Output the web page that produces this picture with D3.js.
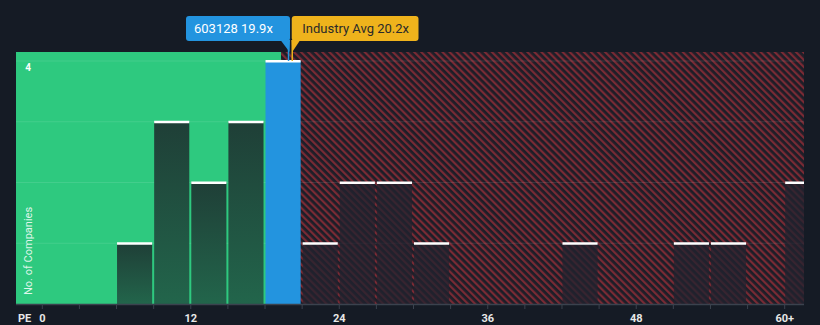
<!DOCTYPE html>
<html><head><meta charset="utf-8">
<script src="https://cdn.jsdelivr.net/npm/d3@7"></script>
<style>body{margin:0;background:#151b25;}svg{display:block;font-family:Roboto,"Open Sans",sans-serif;}</style>
</head><body><div id="c"></div>
<script>
const binStarts = [6, 9, 12, 15, 18, 21, 24, 27, 30, 33, 36, 39, 42, 45, 48, 51, 54, 57, 60];
const binCounts = [1, 3, 2, 3, 4, 1, 2, 2, 1, 0, 0, 0, 1, 0, 0, 1, 1, 0, 2];
const binWidth = 3;
const xTickLabels = [[0,"0"],[12,"12"],[24,"24"],[36,"36"],[48,"48"],[60,"60+"]];
const yTickLabels = [4];
const companyName = "603128";
const companyPE = 19.9;
const industryPE = 20.2;
const fairBoundary = 19.3;

const W = 820, H = 325;
const L = 16, R = 804, T = 52, B = 304;
const svg = d3.select("#c").append("svg").attr("width", W).attr("height", H);
svg.append("rect").attr("width", W).attr("height", H).attr("fill", "#151b25");

const x = d3.scaleLinear().domain([0, 60]).range([42.3, 784.7]);
const y = d3.scaleLinear().domain([0, 4]).range([B, 61]);

const defs = svg.append("defs");
const pat = defs.append("pattern").attr("id","hatch").attr("patternUnits","userSpaceOnUse")
  .attr("width",5).attr("height",5).attr("patternTransform","rotate(-45)");
pat.append("rect").attr("width",5).attr("height",5).attr("fill","#1d1e28");
pat.append("rect").attr("width",2.2).attr("height",5).attr("fill","#7a2a34");
const g1 = defs.append("linearGradient").attr("id","gbar").attr("x1",0).attr("y1",0).attr("x2",0).attr("y2",1);
g1.append("stop").attr("offset","0%").attr("stop-color","#1f3f37");
g1.append("stop").attr("offset","100%").attr("stop-color","#22654b");
const clip = defs.append("clipPath").attr("id","plot");
clip.append("rect").attr("x",L).attr("y",T).attr("width",R-L).attr("height",B-T);

// regions
svg.append("rect").attr("x",L).attr("y",T).attr("width",x(fairBoundary)-L).attr("height",B-T).attr("fill","#2ec97f");
svg.append("rect").attr("x",x(fairBoundary)).attr("y",T).attr("width",R-x(fairBoundary)).attr("height",B-T).attr("fill","url(#hatch)");

// gridlines
svg.append("g").selectAll("line").data([1,2,3,4]).join("line")
  .attr("x1",L).attr("x2",R).attr("y1",d=>y(d)).attr("y2",d=>y(d))
  .attr("stroke","#ffffff").attr("stroke-opacity",0.1).attr("stroke-width",1);

const bars = binStarts.map((s,i)=>({s, c: binCounts[i]})).filter(d=>d.c>0);
const gb = svg.append("g").attr("clip-path","url(#plot)");
bars.forEach(d=>{
  const isCo = companyPE >= d.s && companyPE < d.s + binWidth;
  const inFair = d.s + binWidth <= fairBoundary;
  const x0 = x(d.s) + 0.5, x1 = x(d.s + binWidth) - 1.5;
  gb.append("rect").attr("x",x0).attr("y",y(d.c)).attr("width",x1-x0).attr("height",B-y(d.c))
    .attr("fill", isCo ? "#2394df" : (inFair ? "url(#gbar)" : "#22232f"))
    .attr("fill-opacity", isCo ? 1 : (inFair ? 1 : 0.75));
  gb.append("rect").attr("x",x0).attr("y",y(d.c)-1).attr("width",x1-x0).attr("height",2.5).attr("fill","#ffffff");
});

// axis
svg.append("line").attr("x1",L).attr("x2",R).attr("y1",B+0.5).attr("y2",B+0.5).attr("stroke","#3b424e").attr("stroke-width",1.5);
svg.append("g").selectAll("line").data(d3.range(0,61,3)).join("line")
  .attr("x1",d=>x(d)).attr("x2",d=>x(d)).attr("y1",B).attr("y2",B+5)
  .attr("stroke","#3b424e").attr("stroke-width",1);
svg.append("g").selectAll("text").data(xTickLabels).join("text")
  .attr("x",d=>x(d[0])).attr("y",322).attr("text-anchor","middle")
  .attr("fill","#e8e8e8").attr("font-size",11).attr("font-weight","bold").text(d=>d[1]);
svg.append("text").attr("x",18).attr("y",322).attr("fill","#e8e8e8").attr("font-size",11).attr("font-weight","bold").text("PE");
svg.append("g").selectAll("text").data(yTickLabels).join("text")
  .attr("x",28).attr("y",d=>y(d)+10).attr("text-anchor","middle")
  .attr("fill","#ffffff").attr("font-size",10).attr("font-weight","bold").text(d=>d);
svg.append("text").attr("transform","translate(32,295) rotate(-90)")
  .attr("fill","#ffffff").attr("fill-opacity",0.85).attr("font-size",11).text("No. of Companies");

// callouts
const cx = x(companyPE), ix = x(industryPE);
svg.append("line").attr("x1",cx).attr("x2",cx).attr("y1",40).attr("y2",61).attr("stroke","#2394df").attr("stroke-width",1.5);
svg.append("path").attr("d",`M${cx-8},40 L${cx+1.5},40 L${cx+1},52 Z`).attr("fill","#2394df");
svg.append("rect").attr("x",186).attr("y",16).attr("width",cx+1.5-186).attr("height",25).attr("rx",3).attr("fill","#2394df");
svg.append("text").attr("x",194).attr("y",33).attr("fill","#ffffff").attr("font-size",13).text(`${companyName} ${companyPE}x`);

svg.append("line").attr("x1",ix).attr("x2",ix).attr("y1",40).attr("y2",61).attr("stroke","#efb31c").attr("stroke-width",1.5);
svg.append("path").attr("d",`M${ix-0.5},40 L${ix+8},40 L${ix},52 Z`).attr("fill","#efb31c");
svg.append("rect").attr("x",ix-0.5).attr("y",16).attr("width",419-ix).attr("height",25).attr("rx",3).attr("fill","#efb31c");
svg.append("text").attr("x",ix+10).attr("y",33).attr("fill","#2a2a2a").attr("font-size",13).text(`Industry Avg ${industryPE}x`);
</script></body></html>
